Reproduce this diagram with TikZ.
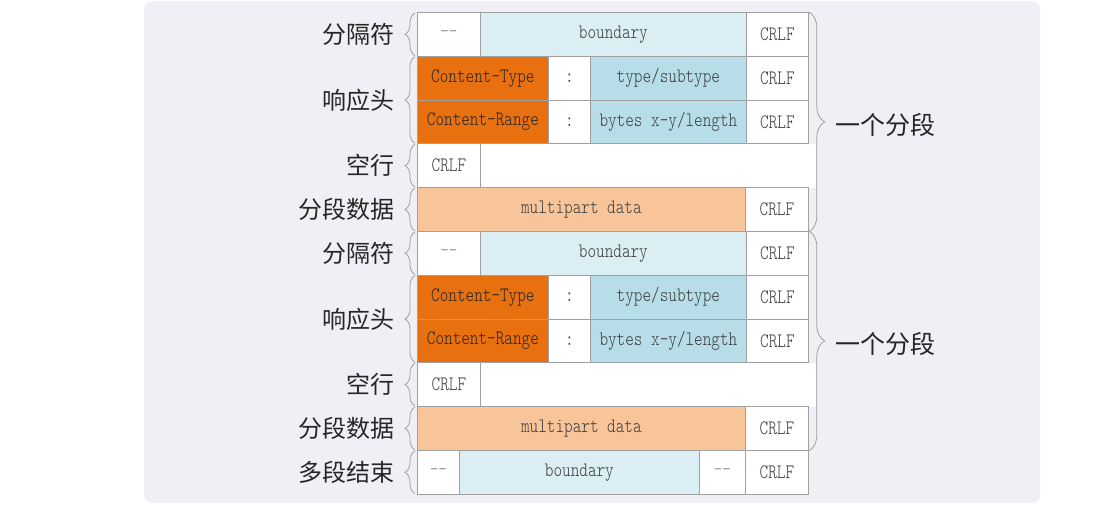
\documentclass[tikz,border=0pt]{standalone}
\usepackage{fontspec}
\usetikzlibrary{decorations.pathreplacing,positioning}
\newfontfamily\cjk{Noto Sans CJK SC}
\newfontfamily\cellfont{lmmonolt10-regular.otf}[FakeStretch=0.8]
\definecolor{mp_bg}{RGB}{240,239,245}
\definecolor{mp_line}{RGB}{160,160,160}
\definecolor{mp_text}{RGB}{60,60,60}
\definecolor{mp_dash}{RGB}{140,140,140}
\definecolor{mp_hdr}{RGB}{233,112,15}
\definecolor{mp_val}{RGB}{182,221,232}
\definecolor{mp_bnd}{RGB}{218,238,243}
\definecolor{mp_dat}{RGB}{248,197,155}
\tikzstyle{cell}=[draw=mp_line,line width=0.8pt,fill=white,anchor=north west,
  inner sep=0pt,minimum height=43.8pt,text=mp_text,
  font=\cellfont\fontsize{20.5}{20.5}\selectfont]
\tikzstyle{dashcell}=[cell,text=mp_dash]
\tikzstyle{bnd}=[cell,fill=mp_bnd]
\tikzstyle{hdr}=[cell,fill=mp_hdr,text=black!85]
\tikzstyle{val}=[cell,fill=mp_val]
\tikzstyle{dat}=[cell,fill=mp_dat]
\tikzstyle{lbl}=[anchor=east,inner sep=0pt,text=black!85,
  font=\cjk\fontsize{24}{24}\selectfont]
\tikzstyle{seglbl}=[anchor=west,inner sep=0pt,xshift=26pt,yshift=-3pt,
  text=black!85,font=\cjk\fontsize{25}{25}\selectfont]
\tikzstyle{lbrace}=[decorate,decoration={brace,amplitude=10pt},
  draw=mp_line,line width=0.8pt]
\tikzstyle{rbrace}=[decorate,decoration={brace,amplitude=16pt},
  draw=mp_line,line width=0.8pt]

\begin{document}
\begin{tikzpicture}[x=1pt,y=-1pt]
    \useasboundingbox (0,0) rectangle (1119,506);
    \fill [mp_bg, rounded corners=8pt] (144,1) rectangle (1040,503);

    % first part
    \node [style=dashcell, minimum width=63pt] (sepA) at (417,12) {-{}-};
    \node [style=bnd, minimum width=266pt] (bndA) at (480,12) {boundary};
    \node [style=cell, minimum width=62pt] (crA1) at (746,12) {CRLF};
    \node [style=hdr, minimum width=131pt] (ctA) at (417,55.8) {Content-Type};
    \node [style=cell, minimum width=42pt] (coA1) at (548,55.8) {:};
    \node [style=val, minimum width=156pt] (tyA) at (590,55.8) {type/subtype};
    \node [style=cell, minimum width=62pt] (crA2) at (746,55.8) {CRLF};
    \node [style=hdr, minimum width=131pt] (crgA) at (417,99.6) {Content-Range};
    \node [style=cell, minimum width=42pt] (coA2) at (548,99.6) {:};
    \node [style=val, minimum width=156pt] (byA) at (590,99.6) {bytes x-y/length};
    \node [style=cell, minimum width=62pt] (crA3) at (746,99.6) {CRLF};
    \node [style=cell, draw=none, minimum width=336pt] (gapA) at (480,143.4) {};
    \node [style=cell, minimum width=63pt] (blA) at (417,143.4) {CRLF};
    \node [style=dat, minimum width=328pt] (daA) at (417,187.2) {multipart data};
    \node [style=cell, minimum width=63pt] (crA4) at (745,187.2) {CRLF};

    % second part
    \node [style=dashcell, minimum width=63pt] (sepB) at (417,231) {-{}-};
    \node [style=bnd, minimum width=266pt] (bndB) at (480,231) {boundary};
    \node [style=cell, minimum width=62pt] (crB1) at (746,231) {CRLF};
    \node [style=hdr, minimum width=131pt] (ctB) at (417,274.8) {Content-Type};
    \node [style=cell, minimum width=42pt] (coB1) at (548,274.8) {:};
    \node [style=val, minimum width=156pt] (tyB) at (590,274.8) {type/subtype};
    \node [style=cell, minimum width=62pt] (crB2) at (746,274.8) {CRLF};
    \node [style=hdr, minimum width=131pt] (crgB) at (417,318.6) {Content-Range};
    \node [style=cell, minimum width=42pt] (coB2) at (548,318.6) {:};
    \node [style=val, minimum width=156pt] (byB) at (590,318.6) {bytes x-y/length};
    \node [style=cell, minimum width=62pt] (crB3) at (746,318.6) {CRLF};
    \node [style=cell, draw=none, minimum width=336pt] (gapB) at (480,362.4) {};
    \node [style=cell, minimum width=63pt] (blB) at (417,362.4) {CRLF};
    \node [style=dat, minimum width=328pt] (daB) at (417,406.2) {multipart data};
    \node [style=cell, minimum width=63pt] (crB4) at (745,406.2) {CRLF};

    % closing boundary
    \node [style=dashcell, minimum width=42pt] (endA) at (417,450) {-{}-};
    \node [style=bnd, minimum width=240pt] (endB) at (459,450) {boundary};
    \node [style=dashcell, minimum width=46pt] (endC) at (699,450) {-{}-};
    \node [style=cell, minimum width=63pt] (endD) at (745,450) {CRLF};

    % labels on the left
    \node [style=lbl] (lsepA) at ([xshift=-22pt]sepA.west) {分隔符};
    \node [style=lbl] (lhdrA) at ([xshift=-22pt]ctA.south west) {响应头};
    \node [style=lbl] (lblA) at ([xshift=-22pt]blA.west) {空行};
    \node [style=lbl] (ldaA) at ([xshift=-22pt]daA.west) {分段数据};
    \node [style=lbl] (lsepB) at ([xshift=-22pt]sepB.west) {分隔符};
    \node [style=lbl] (lhdrB) at ([xshift=-22pt]ctB.south west) {响应头};
    \node [style=lbl] (lblB) at ([xshift=-22pt]blB.west) {空行};
    \node [style=lbl] (ldaB) at ([xshift=-22pt]daB.west) {分段数据};
    \node [style=lbl] (lend) at ([xshift=-22pt]endA.west) {多段结束};

    % braces on the left
    \draw [lbrace] ([xshift=-2pt,yshift=1pt]sepA.south west) -- ([xshift=-2pt,yshift=-1pt]sepA.north west);
    \draw [lbrace] ([xshift=-2pt,yshift=1pt]crgA.south west) -- ([xshift=-2pt,yshift=-1pt]ctA.north west);
    \draw [lbrace] ([xshift=-2pt,yshift=1pt]blA.south west) -- ([xshift=-2pt,yshift=-1pt]blA.north west);
    \draw [lbrace] ([xshift=-2pt,yshift=1pt]daA.south west) -- ([xshift=-2pt,yshift=-1pt]daA.north west);
    \draw [lbrace] ([xshift=-2pt,yshift=1pt]sepB.south west) -- ([xshift=-2pt,yshift=-1pt]sepB.north west);
    \draw [lbrace] ([xshift=-2pt,yshift=1pt]crgB.south west) -- ([xshift=-2pt,yshift=-1pt]ctB.north west);
    \draw [lbrace] ([xshift=-2pt,yshift=1pt]blB.south west) -- ([xshift=-2pt,yshift=-1pt]blB.north west);
    \draw [lbrace] ([xshift=-2pt,yshift=1pt]daB.south west) -- ([xshift=-2pt,yshift=-1pt]daB.north west);
    \draw [lbrace] ([xshift=-2pt,yshift=1pt]endA.south west) -- ([xshift=-2pt,yshift=-1pt]endA.north west);

    % braces on the right
    \draw [rbrace] (crA1.north east) -- (crA4.south east)
      node [style=seglbl, midway] (segA) {一个分段};
    \draw [rbrace] (crB1.north east) -- (crB4.south east)
      node [style=seglbl, midway] (segB) {一个分段};
  \end{tikzpicture}
\end{document}
